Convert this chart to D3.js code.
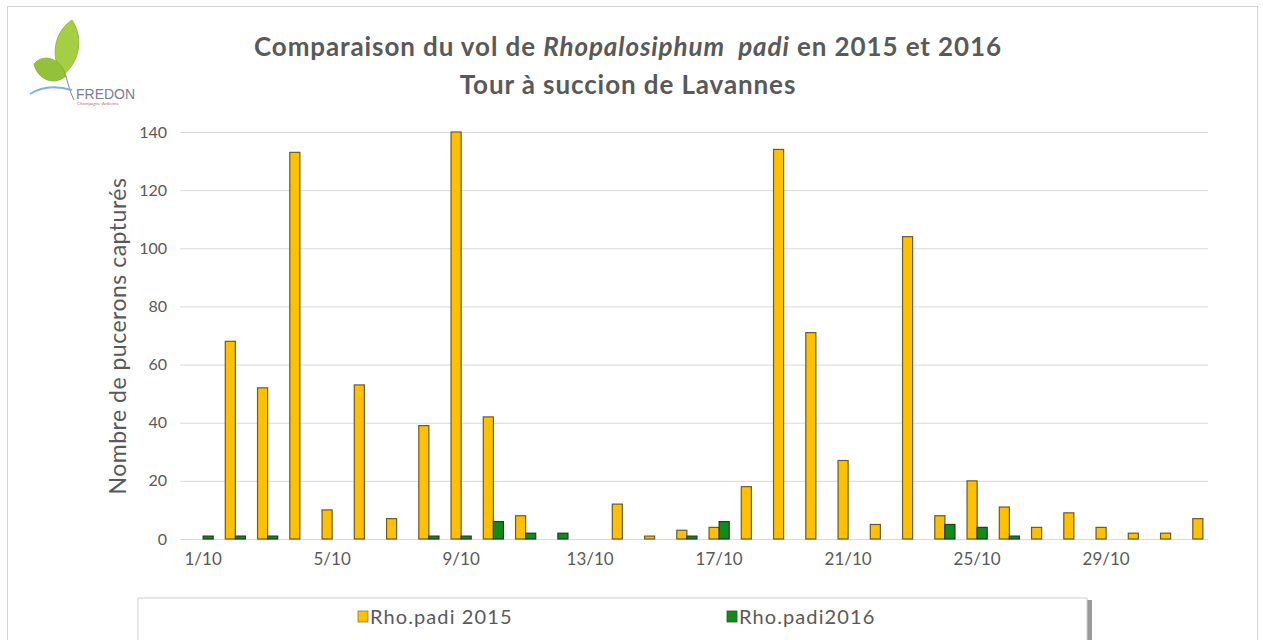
<!DOCTYPE html>
<html>
<head>
<meta charset="utf-8">
<script src="https://cdn.jsdelivr.net/npm/d3@7"></script>
<style>
  body { margin: 0; background: #fff; }
  svg { display: block; font-family: Lato, "Open Sans", sans-serif; }
</style>
</head>
<body>
<svg id="chart"></svg>
<script>
// days of october 2015/2016 + 1st november
const days = ['1/10','2/10','3/10','4/10','5/10','6/10','7/10','8/10','9/10','10/10',
              '11/10','12/10','13/10','14/10','15/10','16/10','17/10','18/10','19/10','20/10',
              '21/10','22/10','23/10','24/10','25/10','26/10','27/10','28/10','29/10','30/10',
              '31/10','1/11'];
const rho2015 = [0, 68, 52, 133, 10, 53, 7, 39, 140, 42,
                 8, 0, 0, 12, 1, 3, 4, 18, 134, 71,
                 27, 5, 104, 8, 20, 11, 4, 9, 4, 2,
                 2, 7];
const rho2016 = [1, 1, 1, 0, 0, 0, 0, 1, 1, 6,
                 2, 2, 0, 0, 0, 1, 6, 0, 0, 0,
                 0, 0, 0, 5, 4, 1, 0, 0, 0, 0,
                 0, 0];
const seriesNames = ['Rho.padi 2015', 'Rho.padi2016'];
const seriesColors = ['#ffc000', '#138a1c'];
const yTicks = [0, 20, 40, 60, 80, 100, 120, 140];
const xLabelDays = ['1/10','5/10','9/10','13/10','17/10','21/10','25/10','29/10'];

const WIDTH = 1263, HEIGHT = 640;
const TEXT = '#595959';

const svg = d3.select('#chart')
   .attr('width', WIDTH)
   .attr('height', HEIGHT);

// outer frame
svg.append('rect')
   .attr('x', 7.5).attr('y', 6.5)
   .attr('width', 1250).attr('height', 640)
   .attr('fill', '#fff')
   .attr('stroke', '#d4d4d4');

// logo
const logo = svg.append('g');
logo.append('path')
   .attr('d', 'M72,20 C54,32 50,56 62,76 C80,62 84,38 72,20 Z')
   .attr('fill', '#a4cf45').attr('stroke', '#86b22e').attr('stroke-width', 0.8);
logo.append('path')
   .attr('d', 'M34,64 C42,54 60,56 66,76 C54,86 38,80 34,64 Z')
   .attr('fill', '#93c23a').attr('stroke', '#7aa82a').attr('stroke-width', 0.8);
logo.append('path')
   .attr('d', 'M66,76 C68,84 70,92 74,100')
   .attr('fill', 'none').attr('stroke', '#8a8a8a').attr('stroke-width', 1);
logo.append('path')
   .attr('d', 'M30,94 C42,86 58,86 72,90')
   .attr('fill', 'none').attr('stroke', '#7fb2df').attr('stroke-width', 2);
logo.append('text')
   .attr('x', 76).attr('y', 99)
   .attr('font-size', 14).attr('fill', '#7d7d8c')
   .attr('font-family', '"Liberation Sans Narrow", "Liberation Sans", sans-serif')
   .text('FREDON');
logo.append('text')
   .attr('x', 77).attr('y', 105)
   .attr('font-size', 4.5).attr('fill', '#c0706a')
   .text('Champagne-Ardenne');

// title
const title = svg.append('text')
   .attr('text-anchor', 'middle')
   .attr('font-size', 26)
   .attr('font-weight', 'bold')
   .attr('letter-spacing', 0.9)
   .style('white-space', 'pre')
   .attr('fill', TEXT);
const l1 = title.append('tspan').attr('x', 628).attr('y', 56);
l1.append('tspan').text('Comparaison du vol de ');
l1.append('tspan').attr('font-style', 'italic').text('Rhopalosiphum  padi');
l1.append('tspan').text(' en 2015 et 2016');
title.append('tspan').attr('x', 628).attr('y', 94).text('Tour à succion de Lavannes');

// scales
const x = d3.scaleBand()
   .domain(days)
   .range([187, 1219])
   .paddingInner(0.375)
   .paddingOuter(0.1875);

const xSub = d3.scaleBand()
   .domain([0, 1])
   .range([0, x.bandwidth()]);

const y = d3.scaleLinear()
   .domain([0, 140])
   .range([539, 132]);

// gridlines + y ticks
const yAxis = svg.append('g')
   .attr('transform', 'translate(180,0)')
   .call(d3.axisLeft(y).tickValues(yTicks).tickSize(-1028).tickPadding(13));
yAxis.select('.domain').remove();
yAxis.selectAll('line').attr('stroke', '#d9d9d9');
yAxis.selectAll('text')
   .attr('fill', TEXT)
   .attr('font-size', 16)
   .attr('font-family', 'Lato, sans-serif');

// x labels
const xAxis = svg.append('g')
   .attr('transform', 'translate(0,539)')
   .call(d3.axisBottom(x).tickValues(xLabelDays).tickSize(0).tickPadding(14));
xAxis.select('.domain').remove();
xAxis.selectAll('text')
   .attr('fill', TEXT)
   .attr('font-size', 17)
   .attr('font-family', 'Lato, sans-serif');

// y axis title
svg.append('text')
   .attr('transform', 'translate(126,336) rotate(-90)')
   .attr('text-anchor', 'middle')
   .attr('font-size', 23)
   .attr('letter-spacing', 0.5)
   .attr('fill', TEXT)
   .text('Nombre de pucerons capturés');

// bars
const series = [rho2015, rho2016];
series.forEach((vals, si) => {
   svg.append('g')
      .selectAll('rect')
      .data(days.map((d, i) => ({ day: d, value: vals[i] })).filter(d => d.value > 0))
      .join('rect')
      .attr('x', d => x(d.day) + xSub(si))
      .attr('y', d => y(d.value))
      .attr('width', xSub.bandwidth())
      .attr('height', d => y(0) - y(d.value))
      .attr('fill', seriesColors[si])
      .attr('stroke', si === 0 ? '#6b5a2a' : '#1f3d22')
      .attr('stroke-width', 1.2);
});

// legend box
const legend = svg.append('g');
legend.append('rect')
   .attr('x', 140).attr('y', 600)
   .attr('width', 952).attr('height', 50)
   .attr('fill', '#9a9a9a');
legend.append('rect')
   .attr('x', 138).attr('y', 598)
   .attr('width', 949).attr('height', 50)
   .attr('fill', '#fff')
   .attr('stroke', '#cfcfcf');

const legendX = [358, 727];
seriesNames.forEach((name, i) => {
   legend.append('rect')
      .attr('x', legendX[i]).attr('y', 611)
      .attr('width', 10).attr('height', 11)
      .attr('fill', seriesColors[i])
      .attr('stroke', i === 0 ? '#8a7a3a' : '#1f5a22')
      .attr('stroke-width', 0.8);
   legend.append('text')
      .attr('x', legendX[i] + 12).attr('y', 624)
      .attr('font-size', 20)
      .attr('letter-spacing', 1.1)
      .attr('fill', TEXT)
      .text(name);
});
</script>
</body>
</html>
